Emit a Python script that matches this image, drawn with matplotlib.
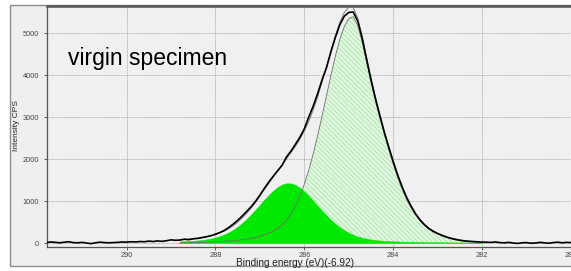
import numpy as np
import matplotlib
matplotlib.use("Agg")
import matplotlib.pyplot as plt
from matplotlib.patches import Rectangle

plt.rcParams['font.family'] = ['Liberation Sans', 'DejaVu Sans']
plt.rcParams['hatch.linewidth'] = 0.6

# ---- data ----------------------------------------------------------------
binding_energy = np.round(np.arange(291.8, 279.95, -0.1), 1)   # eV, 0.1 eV steps

measured = [10, 25, 15, 5, 20, 30, 10, 5, 15, 0, -15, 5, 20, 10, 5, 10, 15, 25, 20, 30,
            25, 35, 30, 45, 35, 50, 40, 55, 75,
            65, 70, 90, 80, 100, 110, 130, 150, 175, 210,
            250, 300, 370, 450, 540, 640, 750, 860, 990, 1140,
            1300, 1450, 1590, 1720, 1850, 2050, 2190, 2350, 2520, 2720,
            3000, 3260, 3560, 3890, 4180, 4560, 4900, 5200, 5400, 5490,
            5500, 5290, 4880, 4380, 3890, 3440, 3030, 2640, 2280, 1940,
            1620, 1340, 1090, 880, 700, 555, 440, 345, 280, 225,
            180, 140, 110, 85, 65, 50, 40, 35, 28, 20,
            20, 15, 25, 10, 5, 15, 0, -10, 5, 10, -5, 0, 15, 5, -5, 10, 20, 5, 15, 10]

# fitted components, defined on the fit region 288.8 ... 282.0 eV
fit_start, fit_stop = 288.8, 282.0
peak_cc = [3, 5, 7, 9, 12, 15, 19, 23, 28,
           34, 40, 47, 56, 66, 78, 92, 110, 130, 160,
           201, 237, 285, 349, 434, 547, 694, 881, 1115, 1399,
           1736, 2124, 2557, 3026, 3514, 3999, 4456, 4853, 5158, 5343,
           5385, 5180, 4790, 4300, 3820, 3380, 2970, 2580, 2220, 1880,
           1560, 1280, 1040, 840, 670, 530, 420, 330, 265, 215,
           172, 137, 106, 82, 62, 46, 34, 24, 16, 10]
peak_co = [37, 41, 47, 53, 62, 73, 88, 107, 132,
           164, 205, 256, 317, 390, 476, 572, 679, 793, 913,
           1032, 1146, 1249, 1333, 1393, 1423, 1419, 1383, 1318, 1229,
           1124, 1008, 889, 770, 657, 552, 458, 375, 304, 245,
           196, 157, 127, 103, 85, 71, 60, 52, 45, 41,
           37, 33, 31, 28, 26, 24, 22, 21, 20, 18,
           17, 16, 15, 14, 14, 13, 12, 12, 11, 11]
background = [40] * 29 + [39, 38, 37, 36, 35, 33, 31, 29, 27, 25,
                          23, 21, 19, 17, 15, 13, 12, 10, 9, 8,
                          7, 6, 5, 5, 4, 4, 3, 3, 2, 2,
                          1, 1, 1, 1, 0, 0, 0, 0, 0, 0]

x_ticks = [290, 288, 286, 284, 282, 280]
y_ticks = [0, 1000, 2000, 3000, 4000, 5000]

# ---- figure --------------------------------------------------------------
W, H = 571, 271
fig = plt.figure(figsize=(W / 100, H / 100), dpi=100, facecolor='white')
panel = Rectangle((10 / W, 5 / H), 1 - 10 / W + 0.01, 261 / H,
                  transform=fig.transFigure, facecolor='#efefef',
                  edgecolor='#8c8c8c', linewidth=1.0, zorder=-10)
fig.add_artist(panel)

ax = fig.add_axes([47 / W, 24 / H, 524 / W, 241 / H])
ax.set_zorder(5)
ax.set_facecolor('#f0f0f0')

be = np.asarray(binding_energy)
mask = (be <= fit_start + 1e-6) & (be >= fit_stop - 1e-6)
xf = be[mask]
p1 = np.asarray(peak_cc, float)
p2 = np.asarray(peak_co, float)
bgv = np.asarray(background, float)
envelope = p1 + p2 + bgv

ax.fill_between(xf, 0, p1, facecolor='#e2f6e2', edgecolor='#a6e6a6',
                hatch='\\' * 7, linewidth=0, zorder=2)
ax.fill_between(xf, 0, p2, facecolor='#00e800', edgecolor='#00e800',
                linewidth=0.3, zorder=3)
ax.plot(xf, p1, color='#6e6e6e', lw=0.6, zorder=4)
ax.plot(xf, envelope, color='#7a7a7a', lw=0.7, zorder=5)
ax.plot(be, measured, color='black', lw=1.2, zorder=6)

ax.set_xlim(291.79, 280.04)
ax.set_ylim(-95, 5643)
ax.set_xticks(x_ticks)
ax.set_yticks(y_ticks)
ax.tick_params(axis='both', labelsize=5.3, colors='#444444', length=2.5,
               width=0.6, pad=1.0)
ax.tick_params(axis='y', pad=3)
ax.grid(True, color='#9a9a9a', linestyle=(0, (1, 1)), linewidth=0.6, zorder=1)
ax.set_axisbelow(True)

for side in ['left', 'bottom']:
    ax.spines[side].set_color('#555555')
    ax.spines[side].set_linewidth(0.9)
ax.spines['top'].set_color('#555555')
ax.spines['top'].set_linewidth(1.8)
ax.spines['right'].set_visible(False)

fig.text(68 / W, 1 - 65 / H, 'virgin specimen', fontsize=16.5, color='black',
         ha='left', va='baseline', zorder=20)
fig.text(16 / W, 1 - 126 / H, 'Intensity CPS', rotation=90, fontsize=6,
         ha='center', va='center', color='#222222', zorder=20)
fig.text(295 / W, 1 - 263 / H, 'Binding energy (eV)(-6.92)', fontsize=7.2,
         ha='center', va='center', color='#222222', zorder=20)

fig.savefig('out.png', dpi=100, facecolor=fig.get_facecolor())
